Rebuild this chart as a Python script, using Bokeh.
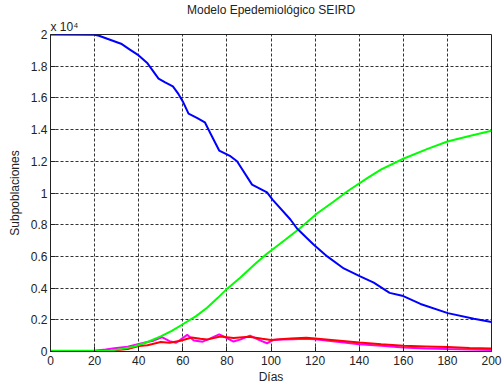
from bokeh.plotting import figure
from bokeh.models import Range1d, Title, FixedTicker
from bokeh.embed import file_html
from bokeh.resources import INLINE

# SEIRD model output (people), sampled at selected days
s_days = [0, 20, 22, 27, 32, 36, 40, 44, 49, 52, 55.5, 58, 60, 62.6, 66.4, 70, 72.5,
          76.5, 81.6, 84.6, 91.4, 98.2, 100.7, 108.8, 111.8, 119.4, 125.5, 133,
          140.2, 146.6, 153.8, 159.5, 167.8, 180.2, 192, 200]
s_vals = [20000, 19980, 19920, 19670, 19420, 19050, 18680, 18180, 17220, 16980,
          16730, 16250, 15780, 15010, 14740, 14460, 13770, 12680, 12320, 12000,
          10530, 10040, 9580, 8330, 7760, 6730, 6000, 5240, 4760, 4350, 3700,
          3520, 3000, 2420, 2070, 1860]

r_days = [0, 27, 32, 38, 44, 50, 55, 60, 66, 71, 76, 80, 86, 93, 98, 106, 113, 121,
          128, 135, 144, 150, 160, 171, 180, 190, 200]
r_vals = [50, 60, 150, 320, 600, 950, 1300, 1720, 2230, 2760, 3400, 3950, 4660,
          5550, 6150, 7000, 7760, 8720, 9420, 10140, 10970, 11490, 12160, 12780,
          13250, 13600, 13930]

i_days = [20, 25, 29, 35, 41, 47, 50.5, 54, 57, 62, 65, 69, 72, 76.5, 80, 83, 86,
          90.5, 95, 98.2, 101, 105, 110, 115, 120, 125, 130, 140, 150, 160, 170,
          180, 190, 200]
i_vals = [50, 120, 200, 300, 500, 700, 900, 650, 550, 1050, 700, 620, 800, 1080,
          850, 630, 750, 1000, 700, 520, 720, 750, 780, 800, 780, 700, 620, 450,
          360, 250, 190, 150, 120, 100]

e_days = [20, 28, 35, 40, 44, 50, 54, 59, 64, 68, 71, 77, 83, 90, 96, 100, 104,
          109, 116, 120, 130, 140, 150, 160, 170, 180, 190, 200]
e_vals = [30, 60, 150, 350, 400, 600, 550, 680, 880, 800, 750, 950, 850, 930, 800,
          720, 780, 820, 860, 820, 700, 570, 450, 360, 320, 280, 220, 190]

x_ticks = list(range(0, 201, 20))
y_ticks = list(range(0, 20001, 2000))
y_tick_labels = ["0", "0.2", "0.4", "0.6", "0.8", "1", "1.2", "1.4", "1.6", "1.8", "2"]

FONT = "Liberation Sans"

p = figure(width=503, height=386, output_backend="svg", toolbar_location=None,
           x_range=Range1d(0, 200), y_range=Range1d(0, 20000),
           min_border_left=50, min_border_right=12, min_border_top=33,
           min_border_bottom=31)
p.background_fill_color = "white"
p.border_fill_color = "white"
p.outline_line_color = "#222222"
p.outline_line_width = 1

for ax in (p.xaxis, p.yaxis):
    ax.major_tick_in = 5
    ax.major_tick_out = 0
    ax.minor_tick_line_color = None
    ax.axis_line_color = "#222222"
    ax.major_tick_line_color = "#222222"
    ax.major_label_text_font = FONT
    ax.major_label_text_font_size = "12px"
    ax.major_label_text_color = "#222222"
    ax.axis_label_text_font = FONT
    ax.axis_label_text_font_size = "12px"
    ax.axis_label_text_font_style = "normal"
    ax.axis_label_text_color = "#222222"

p.xaxis.ticker = FixedTicker(ticks=x_ticks)
p.yaxis.ticker = FixedTicker(ticks=y_ticks)
p.yaxis.major_label_overrides = {t: lab for t, lab in zip(y_ticks, y_tick_labels)}
p.xaxis.major_label_standoff = 4
p.yaxis.major_label_standoff = 3
p.xaxis.axis_label = "Días"
p.yaxis.axis_label = "Subpoblaciones"
p.xaxis.axis_label_standoff = 2
p.yaxis.axis_label_standoff = 6

for g in (p.xgrid, p.ygrid):
    g.grid_line_color = "black"
    g.grid_line_alpha = 0.8
    g.grid_line_dash = "3 2"
    g.grid_line_width = 1
p.xgrid.ticker = FixedTicker(ticks=x_ticks)
p.ygrid.ticker = FixedTicker(ticks=y_ticks)

p.line(i_days, i_vals, line_color="#ff00ff", line_width=2)
p.line(e_days, e_vals, line_color="#ff0000", line_width=2)
p.line(r_days, r_vals, line_color="#00ff00", line_width=2)
p.line(s_days, s_vals, line_color="#0000ff", line_width=2)

# exponent note for the y axis, next to the frame
p.add_layout(Title(text="x 10⁴", align="left", text_font=FONT,
                   text_font_size="12px", text_font_style="normal",
                   text_color="#222222", standoff=2), "above")
# main title
p.add_layout(Title(text="Modelo Epedemiológico SEIRD", align="center",
                   text_font=FONT, text_font_size="12px", text_font_style="normal",
                   text_color="#222222", standoff=0), "above")

open("out.html", "w").write(file_html(p, INLINE))
